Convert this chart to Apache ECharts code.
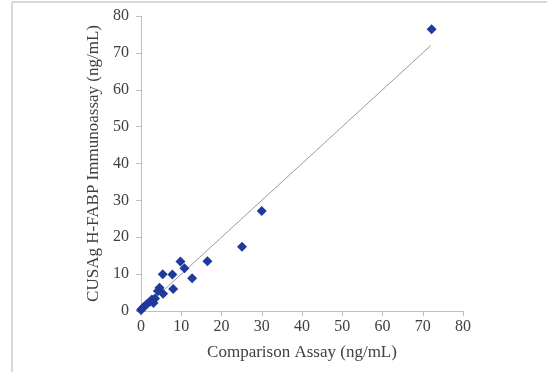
<!DOCTYPE html>
<html>
<head>
<meta charset="utf-8">
<script src="https://cdn.jsdelivr.net/npm/echarts@6/dist/echarts.min.js"></script>
<style>html,body{margin:0;padding:0;background:#fff}#c{width:547px;height:372px}</style>
</head>
<body>
<div id="c"></div>
<script>
var xValues = [72.2, 30.0, 25.1, 16.5, 12.7, 9.8, 10.8, 5.4, 7.8, 8.0, 4.6, 4.2, 5.5, 3.5, 2.7, 2.2, 3.1, 1.4, 0.8, 0.3, 0.0];
var yValues = [76.4, 27.1, 17.4, 13.5, 8.9, 13.4, 11.6, 10.0, 9.9, 6.0, 6.3, 5.4, 4.7, 3.4, 3.1, 2.5, 2.2, 1.8, 1.2, 0.7, 0.3];
var lineX = [0, 72];
var lineY = [0, 72];
var axisTicks = [0, 10, 20, 30, 40, 50, 60, 70, 80];
var xTitle = 'Comparison Assay (ng/mL)';
var yTitle = 'CUSAg H-FABP Immunoassay (ng/mL)';

var pts = xValues.map(function (v, i) { return [v, yValues[i]]; });
var linePts = lineX.map(function (v, i) { return [v, lineY[i]]; });
var font = '"Liberation Serif", "Times New Roman", serif';
var chart = echarts.init(document.getElementById('c'), null, { renderer: 'canvas' });
var axisCommon = {
  type: 'value', min: axisTicks[0], max: axisTicks[axisTicks.length - 1], interval: 10,
  nameLocation: 'middle',
  nameTextStyle: { fontFamily: font, fontSize: 17, color: '#404040' },
  axisLine: { show: true, lineStyle: { color: '#bfbfbf', width: 1 } },
  axisTick: { show: true, length: 5, lineStyle: { color: '#bfbfbf' } },
  axisLabel: { fontFamily: font, fontSize: 16, color: '#404040', margin: 8 },
  splitLine: { show: false }
};
chart.setOption({
  animation: false,
  backgroundColor: '#fff',
  graphic: [
    { type: 'line', shape: { x1: 12, y1: 2, x2: 547, y2: 2 }, style: { stroke: '#d9d9d9', lineWidth: 2 } },
    { type: 'line', shape: { x1: 12, y1: 2, x2: 12, y2: 372 }, style: { stroke: '#d9d9d9', lineWidth: 2 } }
  ],
  grid: { left: 141, right: 84, top: 16, bottom: 61, containLabel: false },
  xAxis: Object.assign({}, axisCommon, { name: xTitle, nameGap: 33 }),
  yAxis: Object.assign({}, axisCommon, {
    name: yTitle, nameGap: 26,
    axisLabel: Object.assign({}, axisCommon.axisLabel, { margin: 12 })
  }),
  series: [
    { type: 'line', data: linePts, showSymbol: false, lineStyle: { color: '#999999', width: 1 }, z: 1 },
    { type: 'scatter', data: pts, symbol: 'diamond', symbolSize: 10, itemStyle: { color: '#1f3a9a', opacity: 1 }, z: 2 }
  ]
});
</script>
</body>
</html>
